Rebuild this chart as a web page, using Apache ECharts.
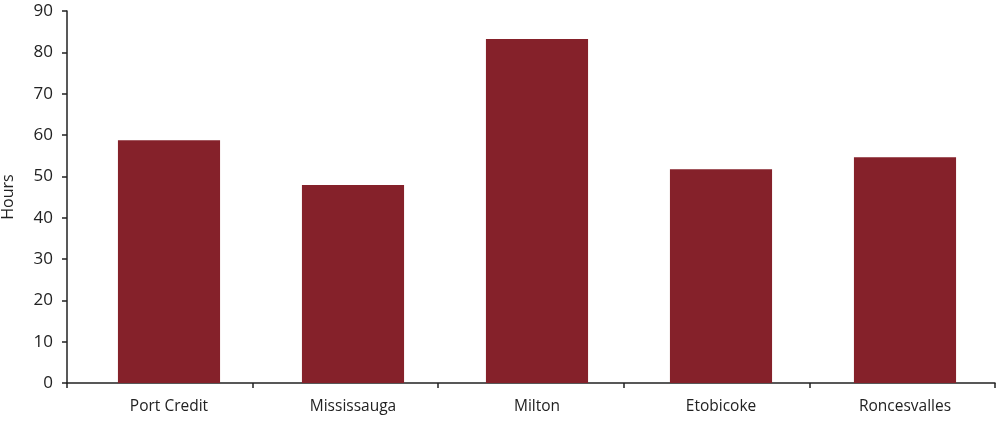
<!DOCTYPE html>
<html>
<head>
<meta charset="utf-8">
<script src="https://cdn.jsdelivr.net/npm/echarts@6/dist/echarts.min.js"></script>
<style>
html,body{margin:0;padding:0;background:#fff;}
#chart{width:1000px;height:422px;}
</style>
</head>
<body>
<div id="chart"></div>
<script>
const categories = ["Port Credit", "Mississauga", "Milton", "Etobicoke", "Roncesvalles"];
const hours = [58.7, 47.9, 83.2, 51.7, 54.6];
const yTicks = { min: 0, max: 90, interval: 10 };
const yName = "Hours";

const chart = echarts.init(document.getElementById('chart'));
const font = "'Open Sans', 'Noto Sans', sans-serif";
const txt = '#222';
chart.setOption({
  animation: false,
  grid: [
    { left: 67, right: 5, top: 11, bottom: 39, containLabel: false, outerBoundsMode: 'none' },
    { left: 77, right: 3, top: 11, bottom: 39, containLabel: false, outerBoundsMode: 'none' }
  ],
  xAxis: [{
    type: 'category',
    gridIndex: 0,
    data: categories,
    axisLine: { lineStyle: { color: txt, width: 1.5 } },
    axisTick: { show: true, alignWithLabel: false, length: 5, lineStyle: { color: txt, width: 1.5 } },
    axisLabel: { show: false }
  }, {
    type: 'category',
    gridIndex: 1,
    data: categories,
    axisLine: { show: false },
    axisTick: { show: false },
    axisLabel: { color: txt, fontSize: 15.5, fontFamily: font, margin: 16 }
  }],
  yAxis: [{
    type: 'value',
    gridIndex: 0,
    min: yTicks.min, max: yTicks.max, interval: yTicks.interval,
    name: yName,
    nameLocation: 'middle',
    nameGap: 51,
    nameRotate: 90,
    nameTextStyle: { color: txt, fontSize: 16, fontFamily: font },
    axisLine: { show: true, lineStyle: { color: txt, width: 1.5 } },
    axisTick: { show: true, length: 5, lineStyle: { color: txt, width: 1.5 } },
    splitLine: { show: false },
    axisLabel: { color: txt, fontSize: 17, fontFamily: font, margin: 14 }
  }, {
    type: 'value',
    gridIndex: 1,
    min: yTicks.min, max: yTicks.max, interval: yTicks.interval,
    show: false,
    splitLine: { show: false }
  }],
  series: [{
    type: 'bar',
    xAxisIndex: 1,
    yAxisIndex: 1,
    data: hours,
    barWidth: '55.5%',
    itemStyle: { color: '#85212A' }
  }]
});
</script>
</body>
</html>
